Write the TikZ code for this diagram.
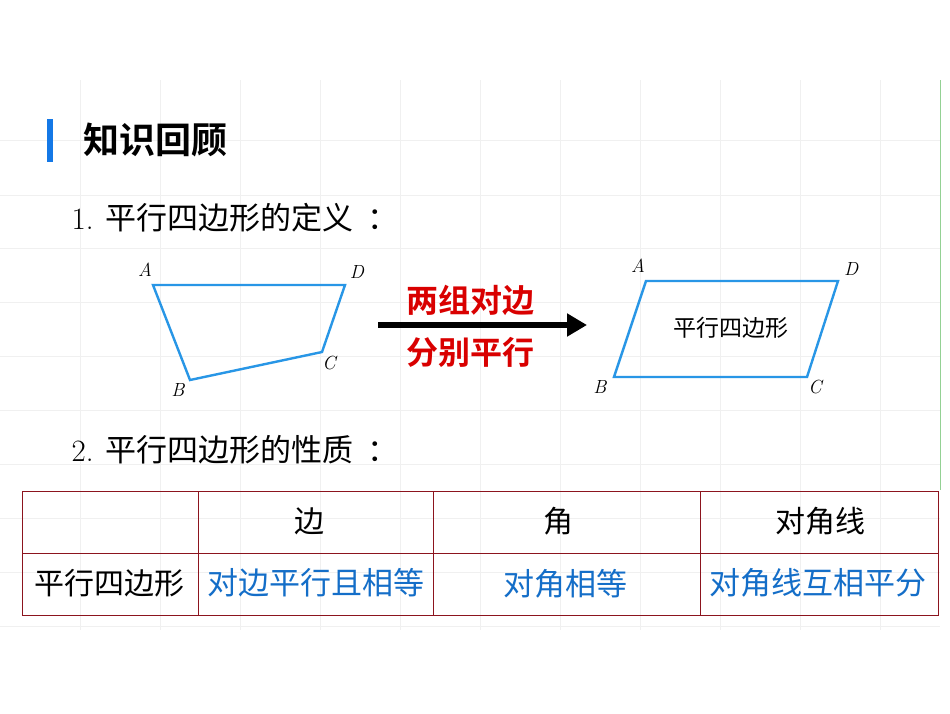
\documentclass[tikz,border=0pt]{standalone}
\usepackage{fontspec}
\usetikzlibrary{arrows.meta}
\newfontfamily\cjk{Noto Sans CJK SC}
\newfontfamily\cjkb{Noto Sans CJK SC Bold}
\definecolor{figblue}{RGB}{40,150,230}
\definecolor{barblue}{RGB}{20,120,230}
\definecolor{txtblue}{RGB}{20,110,200}
\definecolor{tabred}{RGB}{140,20,30}
\begin{document}
\begin{tikzpicture}[x=1pt,y=-1pt,
  figline/.style={draw=figblue,line width=2.4pt,line join=miter},
  lbl/.style={font=\fontsize{19}{22}\selectfont\itshape},
  cell/.style={font=\cjk\fontsize{30}{34}\selectfont},
  bluetxt/.style={font=\cjk\fontsize{31}{34}\selectfont,text=txtblue},
  tab/.style={draw=tabred,line width=0.8pt}]
\useasboundingbox (0,0) rectangle (950,713);
\fill[white] (0,0) rectangle (950,713);
\foreach \x in {80,160,...,880} \draw[black!6] (\x,80) -- (\x,630);
\foreach \y in {140,195,248,302,356,410,464,518,572,626} \draw[black!6] (0,\y) -- (940,\y);
\draw[green!40!gray!60,line width=0.8pt] (940,80) -- (940,490);
\fill[barblue] (47,119) rectangle (53,162);
\node[anchor=west,font=\cjkb\fontsize{36}{40}\selectfont] (title) at (80,140) {知识回顾};
\node[anchor=west,font=\fontsize{31}{34}\selectfont] (d1) at (68,218) {1. {\cjk 平行四边形的定义\hspace{14pt}：}};
\node[anchor=west,font=\fontsize{31}{34}\selectfont] (d2) at (68,450) {2. {\cjk 平行四边形的性质\hspace{14pt}：}};
% left quadrilateral
\coordinate (qa) at (153,285); \coordinate (qd) at (345,285);
\coordinate (qc) at (322,352); \coordinate (qb) at (190,380);
\draw[figline] (qa) -- (qd) -- (qc) -- (qb) -- cycle;
\node[lbl] (la) at (145,270) {A}; \node[lbl] (ld) at (357,272) {D};
\node[lbl] (lc) at (329,363) {C}; \node[lbl] (lb) at (178,390) {B};
% arrow
\coordinate (as) at (378,325); \coordinate (ae) at (587,325);
\draw[line width=6pt,-{Triangle[length=20pt,width=22pt]}] (as) -- (ae);
\node[font=\cjkb\fontsize{32}{36}\selectfont,text=red!85!black] (t1) at (470,300) {两组对边};
\node[font=\cjkb\fontsize{32}{36}\selectfont,text=red!85!black] (t2) at (470,352) {分别平行};
% parallelogram
\coordinate (pa) at (646,281); \coordinate (pd) at (838,281);
\coordinate (pc) at (807,377); \coordinate (pb) at (614,377);
\draw[figline] (pa) -- (pd) -- (pc) -- (pb) -- cycle;
\node[font=\cjk\fontsize{23}{26}\selectfont] (pt) at (731,328) {平行四边形};
\node[lbl] (ra) at (638,266) {A}; \node[lbl] (rd) at (851,269) {D};
\node[lbl] (rb) at (600,387) {B}; \node[lbl] (rc) at (815,387) {C};
% table
\draw[tab] (22,491) rectangle (938,615);
\draw[tab] (22,553) -- (938,553);
\foreach \x in {198,433,700} \draw[tab] (\x,491) -- (\x,615);
\node[cell] (h1) at (309,521) {边};
\node[cell] (h2) at (558,521) {角};
\node[cell] (h3) at (820,521) {对角线};
\node[cell] (r0) at (109,583) {平行四边形};
\node[bluetxt] (r1) at (316,583) {对边平行且相等};
\node[bluetxt] (r2) at (565,584) {对角相等};
\node[bluetxt] (r3) at (818,583) {对角线互相平分};
\end{tikzpicture}
\end{document}
